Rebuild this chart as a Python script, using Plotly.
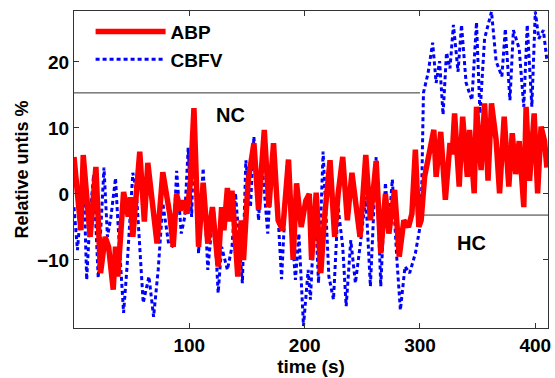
import plotly.graph_objects as go

# ABP (red) vertices
abp_t = [0, 6, 8, 14, 19, 23, 27, 30, 34, 36, 38, 43, 47, 49, 51, 57, 61, 64, 72, 77,
         83, 86, 89, 92, 95, 98, 101, 104, 108, 112, 116, 120, 125, 128, 130, 133, 135, 137,
         142, 145, 147, 151, 156, 160, 165, 169, 173, 177, 181, 186, 190, 193, 197, 201,
         204, 206, 210, 214, 217, 222, 226, 229, 233, 237, 241, 244, 248, 253, 257, 262,
         266, 270, 273, 278, 282, 286, 290, 293, 296, 299, 301, 304, 308, 312, 314, 318,
         322, 326, 328, 330, 334, 337, 341, 343, 347, 349, 353, 356, 359, 362, 366, 369,
         373, 377, 380, 383, 386, 390, 392, 395, 399, 402, 405, 408, 410]
abp_v = [5.6, -5.5, 5.9, -6.5, 4.1, -12, -6.5, -8, -14.5, -8, -12.5, 0.3, -3.4, -0.5, -6.5, 6.4, -4.2, 4.7, -7.5, 3.3,
         -3, -8, 0, -2.5, -1, -3, 2, 13, -8, 1.7, -7.5, -2, -11, -2, -5.5, 0.9, -4.2, 0.5,
         -12.5, -4, -10, 2, 7.7, -2.4, 9.7, -2, 7.7, -4, -5.5, 5.2, -10, 1.6, -5, -1,
         0, -10, 0.2, -12, -4, 5.1, -6.5, 0, 5.6, -4, 3.2, -1, -6.5, 5.9, -4, 5,
         -9, 0, -6, 0.6, -9.5, -4, -5, -3, 6.7, -5, -4, 2.6, 6.2, 9.7, 2.6, 9.4,
         -0.9, 7.7, 6, 12.2, 1.1, 11.7, 2.6, 9.7, 0.1, 13.2, 3.6, 13.7, 2, 13.7, 8.2, 0.1,
         11.7, 1.1, 9.2, 3, 8, -2, 13.2, 2, 12.2, 0.1, 10.2, 8, 4]

# CBFV (blue) vertices
cbfv_t = [0, 3, 6, 8, 11, 14, 17, 21, 26, 29, 32, 36, 38, 43, 46, 51, 54, 60, 65, 69,
          73, 77, 82, 86, 89, 93, 96, 99, 102, 104, 108, 112, 116, 121, 125, 128, 133, 137,
          140, 144, 146, 149, 153, 156, 160, 163, 168, 172, 177, 180, 185, 188, 192, 195,
          199, 203, 205, 209, 212, 216, 221, 225, 229, 233, 236, 240, 244, 248, 253, 257,
          262, 266, 270, 273, 276, 280, 283, 287, 291, 296, 299, 301, 303, 307, 311, 314,
          317, 320, 323, 326, 329, 333, 336, 340, 345, 349, 352, 356, 362, 366, 371, 374,
          378, 381, 386, 390, 393, 397, 400, 403, 407, 410]
cbfv_v = [-2, -8.5, -2, 5, -13, -3, 2.9, -12.7, 4, -6.5, -3.5, 2.4, -4, -18, -11, 3.2, 0.5, -16.5, -12.5, -18.6,
          -11.5, -1.4, -7.5, -8, 3.5, -6, -3.5, 7, -3.5, 9.7, -9, 3.9, -11.5, -2, -15, -8, -11.5, -8,
          0.1, -9, -13.5, 5.1, -2, 8.7, -4, 4.7, -6, 5.9, -3.5, -12.9, 5, -3.5, -13, -6,
          -20, -11.5, -16, -1.4, -13.5, 6.4, -12.5, -16, -2, -8, -17, -7, -13.5, -8, -0.4, -14,
          5.6, -14, 1.7, -5, 2.2, -10, -17.6, -11, -12, -9, -6, -4, 15.3, 18.3, 22.9, 16.8,
          20.1, 12, 21.4, 19, 25.6, 18.5, 25.6, 16.8, 14.2, 26, 12.2, 23.5, 27.6, 20.1, 17.8, 25,
          14.2, 24.8, 22, 13.2, 25.6, 13.2, 27.6, 23.5, 24.8, 20.3]

# condition reference levels
nc_t = [0, 300]
nc_level = [15.3, 15.3]
hc_t = [303, 411]
hc_level = [-3.2, -3.2]

# region labels
region_labels = ["NC", "HC"]
region_t = [136, 345]
region_y = [12.0, -7.4]

x_ticks = [100, 200, 300, 400]
y_ticks = [-10, 0, 10, 20]

FONT = "Liberation Sans, Arial, sans-serif"

fig = go.Figure()
fig.add_trace(go.Scatter(x=nc_t, y=nc_level, mode="lines",
                         line=dict(color="#333333", width=1), showlegend=False, hoverinfo="skip"))
fig.add_trace(go.Scatter(x=hc_t, y=hc_level, mode="lines",
                         line=dict(color="#333333", width=1), showlegend=False, hoverinfo="skip"))
fig.add_trace(go.Scatter(x=cbfv_t, y=cbfv_v, mode="lines", name="CBFV", legendgroup="b",
                         line=dict(color="#0000FF", width=3, dash="4px,3px")))
fig.add_trace(go.Scatter(x=abp_t, y=abp_v, mode="lines", name="ABP", legendgroup="a",
                         line=dict(color="#FF0000", width=5.5)))

for lab, tx, ty in zip(region_labels, region_t, region_y):
    fig.add_annotation(x=tx, y=ty, text=lab, showarrow=False,
                       font=dict(family=FONT, size=20, color="black", weight="bold"))

axis_common = dict(showline=True, linecolor="#333333", linewidth=1, mirror="ticks",
                   ticks="inside", ticklen=5, tickcolor="#333333", showgrid=False, zeroline=False,
                   tickfont=dict(family=FONT, size=19, color="black", weight="bold"))

fig.update_xaxes(range=[0, 411], tickvals=x_ticks, title=dict(text="time (s)", standoff=4,
                 font=dict(family=FONT, size=19, color="black", weight="bold")), **axis_common)
fig.update_yaxes(range=[-20.3, 27.7], tickvals=y_ticks, title=dict(text="Relative untis %", standoff=3,
                 font=dict(family=FONT, size=18, color="black", weight="bold")), **axis_common)

fig.update_layout(
    width=555, height=378,
    margin=dict(l=74, r=4, t=11, b=50),
    paper_bgcolor="white", plot_bgcolor="white",
    showlegend=True,
    legend=dict(x=0.035, y=0.995, xanchor="left", yanchor="top", traceorder="reversed",
                bgcolor="rgba(0,0,0,0)", itemwidth=70, tracegroupgap=10,
                font=dict(family=FONT, size=19, color="black", weight="bold")),
)

fig.write_html("out.html", config={"displayModeBar": False},
               post_script="document.body.style.margin='0';document.body.style.overflow='hidden';")
